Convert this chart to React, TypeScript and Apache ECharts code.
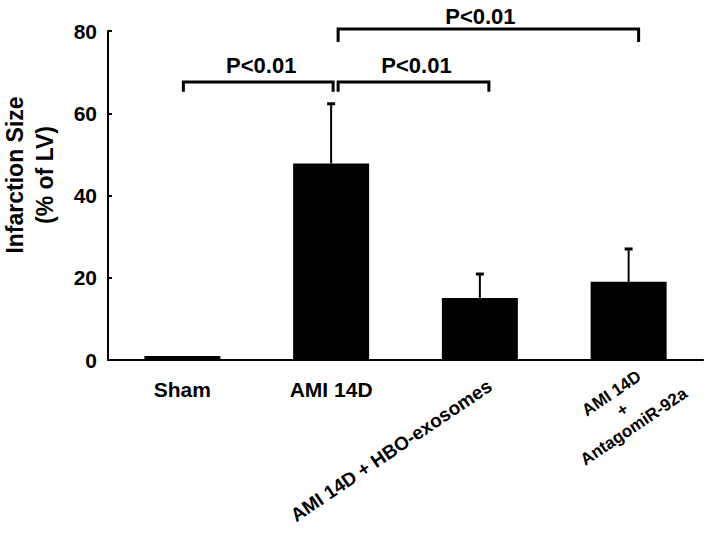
import React, { useEffect, useRef } from "react";
import * as echarts from "echarts";

// ---- data ----
const categories = ["Sham", "AMI 14D", "AMI 14D + HBO-exosomes", "AMI 14D\n+\nAntagomiR-92a"];
const means = [1.0, 47.8, 15.1, 19.0];
const errors = [0, 14.5, 5.8, 8.0];
const yTicks = [0, 20, 40, 60, 80];
// [fromCategory, toCategory, bracketY, footY, labelY]
const comparisons = [
  [0, 1, 67.6, 65.2, 71.7],
  [1, 2, 67.6, 65.2, 71.7],
  [1, 3, 80.5, 77.3, 83.6],
];
const pLabels = ["P<0.01", "P<0.01", "P<0.01"];
const yName = "Infarction Size\n(% of LV)";

// ---- styles ----
const FONT = 'Arial, "Liberation Sans", Helvetica, sans-serif';
const BRACKET_DX = [
  [1, 2, 3],
  [7, 9, 3],
  [7, 10, -8],
];
// rotated category labels: [dx, dy, align, verticalAlign, fontSize]
const ROT_LABEL_STYLE: Record<number, [number, number, string, string, number]> = {
  2: [10, 24, "right", "middle", 19],
  3: [-6, 50, "center", "middle", 17],
};
const ROT_DEG = 34;

export default function App() {
  const ref = useRef<HTMLDivElement>(null);

  useEffect(() => {
    if (!ref.current) return;
    const chart = echarts.init(ref.current, undefined, { renderer: "svg" });

    const errData = means
      .map((m, i) => [i, m, m + errors[i]])
      .filter((d) => errors[d[0]] > 0);
    const rotData = categories.map((c, i) => [i, 0]).filter((d) => ROT_LABEL_STYLE[d[0]]);

    chart.setOption({
      animation: false,
      backgroundColor: "#fff",
      grid: { left: 108, right: 6, top: 31, bottom: 183, containLabel: false },
      xAxis: {
        type: "category",
        data: categories,
        axisLine: { lineStyle: { color: "#000", width: 2 } },
        axisTick: { show: false },
        axisLabel: {
          interval: 0,
          margin: 18,
          color: "#000",
          fontFamily: FONT,
          fontWeight: "bold",
          fontSize: 21,
          lineHeight: 22,
          formatter: (v: string, i: number) => (ROT_LABEL_STYLE[i] ? "" : v),
        },
      },
      yAxis: {
        type: "value",
        min: yTicks[0],
        max: yTicks[yTicks.length - 1],
        interval: yTicks[1] - yTicks[0],
        axisLine: { show: true, lineStyle: { color: "#000", width: 2 } },
        axisTick: { show: true, inside: true, length: 4, lineStyle: { color: "#000", width: 2 } },
        splitLine: { show: false },
        axisLabel: {
          color: "#000",
          fontFamily: FONT,
          fontWeight: "bold",
          fontSize: 21,
          margin: 11,
        },
      },
      graphic: [
        {
          type: "text",
          x: 30,
          y: 175,
          rotation: Math.PI / 2,
          style: {
            text: yName,
            align: "center",
            verticalAlign: "middle",
            font: `bold 23px ${FONT}`,
            lineHeight: 30,
            fill: "#000",
          },
        },
      ],
      series: [
        {
          type: "bar",
          data: means,
          barWidth: 76,
          itemStyle: { color: "#000" },
          z: 2,
        },
        {
          type: "custom",
          data: errData,
          encode: { x: 0, y: 2 },
          z: 3,
          clip: false,
          renderItem: (params: any, api: any) => {
            const p0 = api.coord([api.value(0), api.value(1)]);
            const p1 = api.coord([api.value(0), api.value(2)]);
            return {
              type: "group",
              children: [
                {
                  type: "line",
                  shape: { x1: p0[0], y1: p0[1], x2: p1[0], y2: p1[1] },
                  style: { stroke: "#000", lineWidth: 2 },
                },
                {
                  type: "line",
                  shape: { x1: p1[0] - 4, y1: p1[1], x2: p1[0] + 4, y2: p1[1] },
                  style: { stroke: "#000", lineWidth: 3 },
                },
              ],
            };
          },
        },
        {
          type: "custom",
          data: comparisons,
          encode: { x: 0, y: 2 },
          z: 4,
          clip: false,
          renderItem: (params: any, api: any) => {
            const i = params.dataIndex;
            const a = api.coord([api.value(0), api.value(2)]);
            const b = api.coord([api.value(1), api.value(2)]);
            const fy = api.coord([api.value(0), api.value(3)])[1];
            const ty = api.coord([api.value(0), api.value(4)])[1];
            const [dl, dr, dt] = BRACKET_DX[i];
            const x1 = a[0] + dl;
            const x2 = b[0] + dr;
            const y = a[1];
            return {
              type: "group",
              children: [
                {
                  type: "polyline",
                  shape: { points: [[x1, fy], [x1, y], [x2, y], [x2, fy]] },
                  style: { stroke: "#000", lineWidth: 3, fill: null, lineJoin: "miter" },
                },
                {
                  type: "text",
                  x: (x1 + x2) / 2 + dt,
                  y: ty,
                  style: {
                    text: pLabels[i],
                    fill: "#000",
                    font: `bold 22px ${FONT}`,
                    align: "center",
                    verticalAlign: "middle",
                  },
                },
              ],
            };
          },
        },
        {
          type: "custom",
          data: rotData,
          encode: { x: 0, y: 1 },
          z: 5,
          clip: false,
          renderItem: (params: any, api: any) => {
            const idx = api.value(0);
            const p = api.coord([idx, api.value(1)]);
            const [dx, dy, align, va, fs] = ROT_LABEL_STYLE[idx];
            return {
              type: "text",
              x: p[0] + dx,
              y: p[1] + dy,
              rotation: (ROT_DEG * Math.PI) / 180,
              style: {
                text: categories[idx],
                fill: "#000",
                font: `bold ${fs}px ${FONT}`,
                align,
                verticalAlign: va,
                lineHeight: fs + 3,
              },
            };
          },
        },
      ],
    });

    return () => chart.dispose();
  }, []);

  return (
    <div
      ref={ref}
      style={{ position: "absolute", left: 0, top: 0, width: 709, height: 543, background: "#fff" }}
    />
  );
}
